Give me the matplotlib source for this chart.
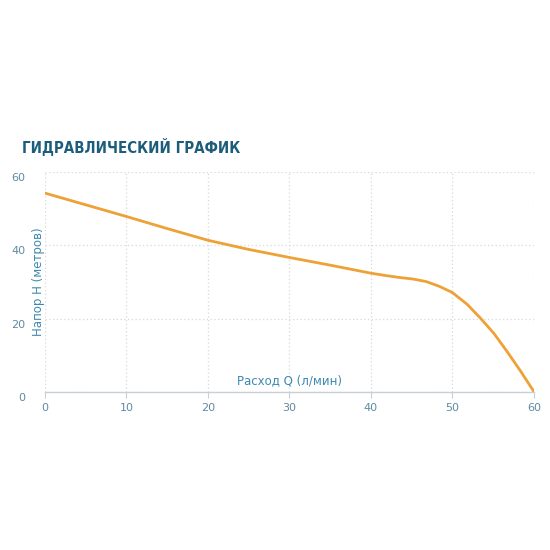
import numpy as np
import matplotlib.pyplot as plt
import matplotlib.transforms as mtransforms

# doc tu hinh: luu luong Q (l/min) va cot ap H (m)
q = [0, 5, 10, 15, 20, 25, 30, 35, 40, 42, 43.6, 45.2, 46.8, 48.4, 50,
     51.8, 53.4, 55.1, 56.7, 58.4, 60]
h = [54.3, 51.1, 47.9, 44.6, 41.4, 38.9, 36.7, 34.6, 32.4, 31.7, 31.2, 30.8, 30.1, 28.8, 27.1,
     23.9, 20.2, 15.9, 11.0, 5.5, 0]
xticks = [0, 10, 20, 30, 40, 50, 60]
yticks = [0, 20, 40, 60]

title = "ГИДРАВЛИЧЕСКИЙ ГРАФИК"
xlabel = "Расход Q (л/мин)"
ylabel = "Напор H (метров)"

tick_col = "#5f8aa0"
lab_col = "#3d89b0"

fig = plt.figure(figsize=(5.5, 5.5), dpi=100)
ax = fig.add_axes([0.0818, 0.2878, 0.889, 0.399])

ax.plot(q, h, color="#eda136", lw=2.0, solid_capstyle="round",
        solid_joinstyle="round", zorder=3)

ax.set_xlim(0, 60)
ax.set_ylim(0, 60)
ax.set_xticks(xticks)
ax.set_yticks(yticks)

ax.grid(True, linestyle=(0, (1, 2)), color="#d4d9dd", lw=0.9)
for s in ["top", "right", "left"]:
    ax.spines[s].set_visible(False)
ax.spines["bottom"].set_color("#c9d0d5")
ax.spines["bottom"].set_linewidth(1.0)

ax.tick_params(axis="x", colors="#c9d0d5", labelcolor=tick_col, labelsize=8,
               length=4, pad=4)
ax.tick_params(axis="y", length=0, labelcolor=tick_col, labelsize=8, pad=14)

# nhan truc y hoi lech xuong duoi
off = mtransforms.ScaledTranslation(0, -5 / 100, fig.dpi_scale_trans)
for lb in ax.get_yticklabels():
    lb.set_transform(lb.get_transform() + off)

ax.text(0.5, 0.022, xlabel, transform=ax.transAxes, ha="center", va="bottom",
        color=lab_col, fontsize=8.5)
ax.text(-0.014, 0.5, ylabel, transform=ax.transAxes, ha="center", va="center",
        rotation=90, color=lab_col, fontsize=8.5)

fig.text(0.04, 0.733, title, ha="left", va="center", color="#1d5d7c",
         fontsize=10.8, fontweight="bold", fontstretch="condensed",
         family="DejaVu Sans")

fig.savefig("out.png", dpi=100, facecolor="white")
